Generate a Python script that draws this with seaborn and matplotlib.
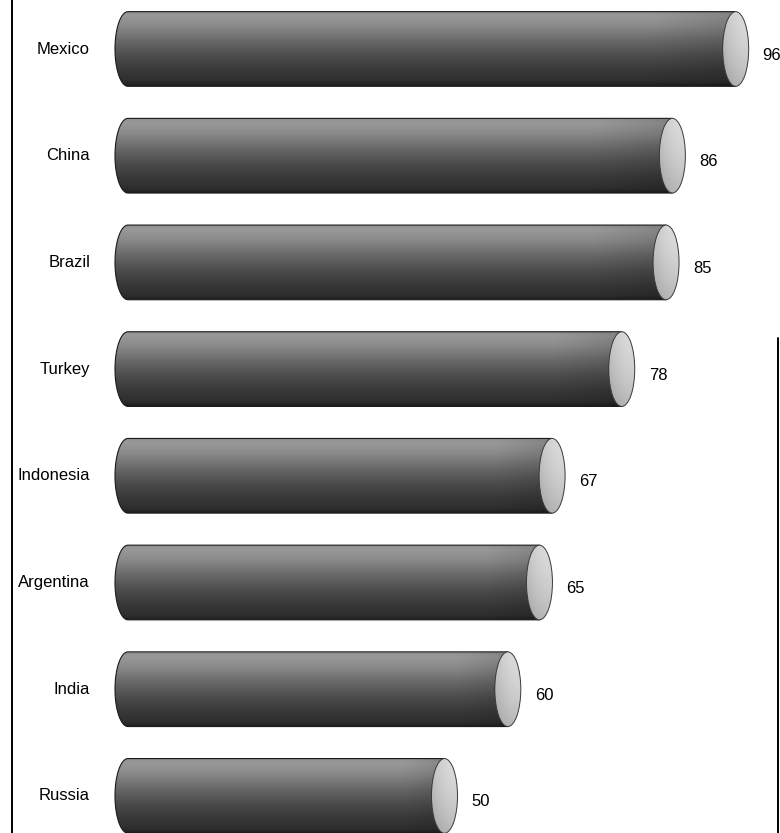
import numpy as np
import pandas as pd
import matplotlib
matplotlib.use("Agg")
import matplotlib.pyplot as plt
from matplotlib.patches import Ellipse, Polygon
from matplotlib.lines import Line2D
import seaborn as sns

# Data
countries = ["Mexico", "China", "Brazil", "Turkey", "Indonesia", "Argentina", "India", "Russia"]
values = [96, 86, 85, 78, 67, 65, 60, 50]

sns.set_theme(style="white")
plt.rcParams["font.family"] = ["Liberation Sans", "DejaVu Sans"]

W, H = 780, 833
fig = plt.figure(figsize=(W / 100, H / 100), dpi=100)
ax = fig.add_axes([0, 0, 1, 1])

df = pd.DataFrame({"country": countries, "value": values})
sns.barplot(data=df, x="value", y="country", orient="h", width=0.70,
            color="#555555", saturation=1, ax=ax)

# Scale: pixels per value unit, pixel column of zero, row pitch
PX = 6.33
X0_PX = 128
PITCH = 106.7
FIRST_PX = 49
ax.set_xlim(-X0_PX / PX, (W - X0_PX) / PX)
ax.set_ylim((H - FIRST_PX) / PITCH, -FIRST_PX / PITCH)
ax.axis("off")

rx = 13 / PX  # half-width of the cylinder end caps, in value units

# Vertical shading profile of the cylinder body (top -> bottom)
n = 200
t = np.linspace(0, 1, n)
stops_t = [0.0, 0.06, 0.2, 0.4, 0.6, 0.8, 0.94, 1.0]
stops_v = [0.56, 0.60, 0.54, 0.41, 0.30, 0.22, 0.18, 0.12]
profile = np.interp(t, stops_t, stops_v)
m = 60
s = np.linspace(0, 1, m)
horiz = 1 - 0.15 * np.clip((s - 0.85) / 0.15, 0, 1)
body_img = profile[:, None] * horiz[None, :]

# Shading of the front end cap
cy, cx = np.mgrid[0:1:100j, 0:1:60j]
cap_img = 0.86 - 0.14 * cy ** 1.6 - 0.10 * (1 - cx) ** 2

bars = list(ax.patches)
for p in bars:
    x0, w = p.get_x(), p.get_width()
    y0, h = p.get_y(), p.get_height()
    yc, hh = y0 + h / 2, h / 2
    p.set_visible(False)

    # Body: rectangle from zero to the value with a rounded back end
    theta = np.linspace(np.pi / 2, 3 * np.pi / 2, 80)
    xs = x0 + rx * np.cos(theta)
    ys = yc - hh * np.sin(theta)
    pts = np.column_stack([np.r_[xs, x0 + w, x0 + w], np.r_[ys, yc + hh, yc - hh]])
    body = Polygon(pts, closed=True, facecolor="none", edgecolor="#1a1a1a",
                   lw=0.8, zorder=2.5)
    ax.add_patch(body)
    im = ax.imshow(body_img, extent=(x0 - rx, x0 + w + rx, y0 + h, y0),
                   origin="upper", cmap="gray", vmin=0, vmax=1,
                   aspect="auto", interpolation="bilinear", zorder=2)
    im.set_clip_path(body)

    # Front cap at the value
    cap = Ellipse((x0 + w, yc), 2 * rx, h, facecolor="none",
                  edgecolor="#3a3a3a", lw=0.7, zorder=3.5)
    ax.add_patch(cap)
    cim = ax.imshow(cap_img, extent=(x0 + w - rx, x0 + w + rx, y0 + h, y0),
                    origin="upper", cmap="gray", vmin=0, vmax=1,
                    aspect="auto", interpolation="bilinear", zorder=3)
    cim.set_clip_path(cap)

ax.set_xlim(-X0_PX / PX, (W - X0_PX) / PX)
ax.set_ylim((H - FIRST_PX) / PITCH, -FIRST_PX / PITCH)

# Category labels and value labels
for i, (name, v) in enumerate(zip(countries, values)):
    ax.text(-(X0_PX - 90) / PX, i, name, ha="right", va="center",
            fontsize=12, color="#000000")
    ax.text(v + rx + 14 / PX, i + 6 / PITCH, str(v), ha="left", va="center",
            fontsize=12, color="#000000")

# Frame rules
fig.add_artist(Line2D([12 / W, 12 / W], [0, 1], color="black", lw=1.4,
                      transform=fig.transFigure))
fig.add_artist(Line2D([778 / W, 778 / W], [0, 1 - 338 / H], color="black",
                      lw=1.4, transform=fig.transFigure))

fig.savefig("out.png", dpi=100)
